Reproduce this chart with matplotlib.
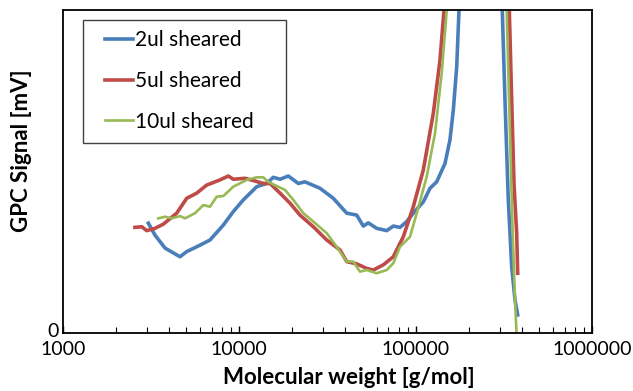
import matplotlib
matplotlib.use('Agg')
import matplotlib.pyplot as plt
from matplotlib.patches import Rectangle
from matplotlib.transforms import ScaledTranslation
from matplotlib.ticker import LogLocator, NullFormatter, FixedLocator

plt.rcParams['font.family'] = ['Lato', 'DejaVu Sans']

# molecular weight [g/mol] and GPC signal (arbitrary, 0 at bottom, 100 at top of frame)
mw_2ul = [3048, 3325, 3789, 4608, 5030, 5984, 6820, 8110, 9245, 10530, 12550, 14300, 15580,
          17010, 18950, 21600, 23570, 28680, 34120, 40640, 46300, 50480, 53880, 60120, 68510,
          74680, 81510, 88970, 96960, 110500, 120600, 131600, 146700, 156500, 163500, 170900,
          176100, 190000, 250000, 300000, 309900, 321000, 335200, 350400, 365900, 378900]
sig_2ul = [34.0, 30.3, 26.3, 23.6, 25.2, 27.2, 28.8, 33.4, 37.6, 41.2, 45.3, 46.3, 48.2,
           47.6, 48.6, 46.3, 46.8, 44.8, 41.7, 37.1, 36.5, 33.1, 34.1, 32.4, 31.7,
           33.1, 32.7, 34.5, 37.1, 40.6, 44.8, 46.8, 52.5, 59.8, 69.0, 82.4,
           100, 160, 400, 130, 100, 72.1, 41.2, 20.5, 10.2, 5.6]

mw_5ul = [2560, 2795, 2984, 3325, 3706, 4414, 5030, 5731, 6530, 7770, 8660, 9245, 10770,
          12000, 13680, 14930, 17010, 19380, 22080, 26270, 31300, 37240, 40640, 46300, 52770,
          57520, 65540, 74680, 85110, 96960, 110500, 125900, 137400, 144800, 160000, 250000,
          330000, 339600, 350400, 361000, 374000, 378900]
sig_5ul = [32.7, 32.9, 31.7, 32.4, 33.7, 37.1, 41.7, 43.3, 45.8, 47.4, 48.6, 47.6, 47.9,
           47.2, 46.3, 46.3, 43.3, 40.2, 36.5, 32.9, 28.8, 25.7, 22.1, 21.4, 20.0,
           19.5, 21.1, 23.6, 29.8, 39.1, 50.5, 68.0, 84.5, 100, 160, 400,
           130, 100, 72.1, 46.3, 30.9, 18.5]

mw_10ul = [3472, 3789, 4135, 4608, 4920, 5606, 6248, 6820, 7442, 8110, 9245, 11010, 12550,
           13680, 14600, 16290, 18160, 20240, 23060, 26270, 31300, 35660, 40640, 44300, 48340,
           52770, 60120, 68510, 74680, 81510, 92880, 101400, 115500, 128700, 140500, 150100,
           165000, 250000, 320000, 328100, 342600, 354900, 365900, 374000]
sig_10ul = [35.5, 36.0, 35.5, 36.2, 35.5, 37.1, 39.6, 39.1, 42.2, 42.4, 45.3, 47.4, 48.2,
            48.2, 46.8, 45.5, 44.3, 41.2, 37.1, 34.5, 30.9, 26.7, 22.1, 22.1, 19.0,
            19.5, 18.5, 19.5, 21.6, 26.7, 29.8, 37.1, 48.4, 61.8, 80.4, 100,
            160, 400, 130, 100, 61.8, 30.9, 10.2, -1.0]

W, H = 633, 391
fig = plt.figure(figsize=(W / 100, H / 100), dpi=100)
ax = fig.add_axes([63 / W, 1 - 333 / H, 529 / W, 323 / H])

ax.plot(mw_2ul, sig_2ul, color='#4A7EBB', lw=2.6, label='2ul sheared')
ax.plot(mw_5ul, sig_5ul, color='#BE4B48', lw=2.6, label='5ul sheared')
ax.plot(mw_10ul, sig_10ul, color='#98B954', lw=1.9, label='10ul sheared')

ax.set_xscale('log')
ax.set_xlim(1000, 1000000)
ax.set_ylim(0, 100)
ax.xaxis.set_major_locator(FixedLocator([1000, 10000, 100000, 1000000]))
ax.set_xticklabels(['1000', '10000', '100000', '1000000'])
ax.xaxis.set_minor_locator(LogLocator(base=10, subs=range(2, 10)))
ax.xaxis.set_minor_formatter(NullFormatter())
ax.tick_params(axis='x', which='major', direction='in', length=5, width=1, labelsize=14, pad=6)
ax.tick_params(axis='x', which='minor', direction='in', length=4, width=0.8)
ax.set_yticks([0])
ax.set_yticklabels(['0'], va='center_baseline')
ax.tick_params(axis='y', length=0, labelsize=14, pad=3)
for lbl in ax.get_yticklabels():
    lbl.set_transform(lbl.get_transform() + ScaledTranslation(0, 3 / 100, fig.dpi_scale_trans))
for s in ax.spines.values():
    s.set_linewidth(1.3)

ax.set_xlabel('Molecular weight [g/mol]', fontsize=16, fontweight='bold')
ax.set_ylabel('GPC Signal [mV]', fontsize=16, fontweight='bold')
ax.xaxis.set_label_coords((349 - 63) / 529, -(378 - 333) / 323)
ax.yaxis.set_label_coords(-(63 - 22) / 529, (333 - 151) / 323)
ax.xaxis.label.set_va('center')
ax.yaxis.label.set_va('center')

# legend box drawn separately (wide side padding like the original)
fig.patches.append(Rectangle((83 / W, 1 - 143 / H), 203 / W, 123 / H, transform=fig.transFigure,
                             facecolor='white', edgecolor='#404040', lw=1.0, zorder=5))
leg = fig.legend(loc='upper left', bbox_to_anchor=(105 / W, 1 - 30 / H), fontsize=15,
                 frameon=False, handlelength=1.35, handletextpad=0.08, labelspacing=1.0,
                 borderpad=0, borderaxespad=0)
leg.set_zorder(6)

fig.savefig('out.png', dpi=100)
